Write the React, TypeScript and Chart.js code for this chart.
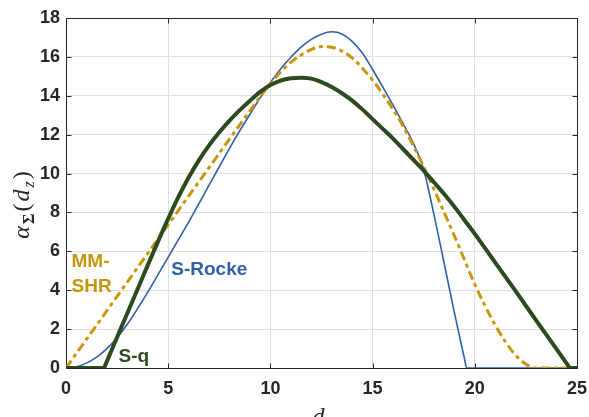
import React, { useEffect, useRef } from "react";
import { Chart, registerables } from "chart.js";

Chart.register(...registerables);

// ---- data ----
const xTickValues = [0, 5, 10, 15, 20, 25];
const yTickValues = [0, 2, 4, 6, 8, 10, 12, 14, 16, 18];

const seriesNames = ["S-q", "MM-SHR", "S-Rocke"];

const sqX = [0, 1.86, 1.95, 2.5, 3, 3.5, 4, 4.5, 5, 5.5, 6, 6.5, 7, 7.5, 8, 8.5, 9, 9.5, 10, 10.5, 11, 11.5, 12, 12.5, 13, 13.5, 14, 14.5, 15, 15.5, 16, 16.5, 17, 17.5, 18, 18.5, 19, 19.5, 20, 21, 22, 23, 24, 24.55, 24.65, 25];
const sqY = [0, 0, 0.22, 1.58, 2.82, 4.05, 5.29, 6.5, 7.68, 8.8, 9.8, 10.68, 11.45, 12.12, 12.72, 13.26, 13.75, 14.2, 14.55, 14.78, 14.9, 14.93, 14.88, 14.7, 14.45, 14.13, 13.75, 13.3, 12.8, 12.3, 11.8, 11.25, 10.7, 10.15, 9.55, 8.95, 8.3, 7.6, 6.9, 5.42, 3.95, 2.45, 0.97, 0.15, 0, 0];

const shrX = [0, 9, 9.5, 10, 10.5, 11, 11.5, 12, 12.5, 13, 13.5, 14, 14.5, 15, 15.5, 16, 16.5, 17, 17.5, 18, 18.5, 19, 19.5, 20, 20.5, 21, 21.5, 22, 22.5, 23, 24.65];
const shrY = [0, 13.23, 13.95, 14.62, 15.22, 15.72, 16.1, 16.38, 16.53, 16.5, 16.3, 15.95, 15.42, 14.8, 14.08, 13.3, 12.42, 11.42, 10.35, 9.2, 8.0, 6.8, 5.55, 4.3, 3.2, 2.2, 1.35, 0.65, 0.2, 0, 0];

const rockeX = [0, 0.5, 1, 1.5, 2, 2.5, 3, 3.5, 4, 4.5, 5, 5.5, 6, 6.5, 7, 7.5, 8, 8.5, 9, 9.5, 10, 10.5, 11, 11.5, 12, 12.5, 13, 13.5, 14, 14.5, 15, 15.5, 16, 16.5, 17, 17.5, 18, 18.5, 19, 19.5, 19.6, 24.8];
const rockeY = [0, 0.06, 0.25, 0.56, 1.0, 1.56, 2.25, 3.05, 3.9, 4.8, 5.7, 6.6, 7.5, 8.45, 9.4, 10.35, 11.3, 12.2, 13.05, 13.9, 14.68, 15.38, 15.98, 16.5, 16.9, 17.17, 17.29, 17.18, 16.8, 16.2, 15.35, 14.45, 13.52, 12.55, 11.55, 10.2, 7.9, 5.4, 2.85, 0.45, 0, 0];

// label texts inside the plot, anchored in data units
const labelTexts = [["MM-", "SHR"], ["S-Rocke"], ["S-q"]];
const labelAnchorX = [0.27, 5.15, 2.57];
const labelAnchorY = [5.2, 4.79, 0.31];

const COLORS = { sq: "#2c4a1d", shr: "#c8960c", rocke: "#3060a8", axis: "#262626", grid: "#e0e0e0" };

function pts(xs: number[], ys: number[]) {
  return xs.map((x, i) => ({ x, y: ys[i] }));
}

const boxPlugin = {
  id: "boxPlugin",
  beforeDatasetsDraw(chart: any) {
    const { ctx, chartArea: a, scales } = chart;
    ctx.save();
    ctx.strokeStyle = COLORS.axis;
    ctx.lineWidth = 1;
    const L = Math.round(a.left) + 0.5, R = Math.round(a.right) + 0.5;
    const T = Math.round(a.top) + 0.5, B = Math.round(a.bottom) + 0.5;
    ctx.beginPath();
    ctx.rect(L, T, R - L, B - T);
    ctx.stroke();
    const tl = 5;
    ctx.beginPath();
    for (const v of xTickValues) {
      const px = Math.round(scales.x.getPixelForValue(v)) + 0.5;
      ctx.moveTo(px, B); ctx.lineTo(px, B - tl);
      ctx.moveTo(px, T); ctx.lineTo(px, T + tl);
    }
    for (const v of yTickValues) {
      const py = Math.round(scales.y.getPixelForValue(v)) + 0.5;
      ctx.moveTo(L, py); ctx.lineTo(L + tl, py);
      ctx.moveTo(R, py); ctx.lineTo(R - tl, py);
    }
    ctx.stroke();
    ctx.restore();
  },
};

const textPlugin = {
  id: "textPlugin",
  afterDatasetsDraw(chart: any) {
    const { ctx, scales } = chart;
    const cols = [COLORS.shr, COLORS.rocke, COLORS.sq];
    ctx.save();
    ctx.font = "bold 19px 'Liberation Sans', Arial, sans-serif";
    ctx.textAlign = "left";
    ctx.textBaseline = "alphabetic";
    labelTexts.forEach((lines, i) => {
      const x = scales.x.getPixelForValue(labelAnchorX[i]);
      const y0 = scales.y.getPixelForValue(labelAnchorY[i]);
      ctx.fillStyle = cols[i];
      lines.forEach((t, j) => {
        ctx.fillText(t, x, y0 + j * 25);
      });
    });
    ctx.restore();
  },
  afterDraw(chart: any) {
    const { ctx, chartArea: a } = chart;
    ctx.save();
    ctx.fillStyle = COLORS.axis;
    ctx.textBaseline = "alphabetic";
    const big = "italic 24px 'Liberation Serif', 'Times New Roman', serif";
    const up = "24px 'Liberation Serif', 'Times New Roman', serif";
    const sub = "italic 16px 'Liberation Serif', 'Times New Roman', serif";
    const subB = "bold 16px 'Liberation Serif', 'Times New Roman', serif";
    const gap = 2;
    // y title: alpha_Sigma(d_z)
    const parts: [string, string, number][] = [
      ["α", big, 0], ["Σ", subB, 5], ["(", up, 0], ["d", big, 0], ["z", sub, 5], [")", up, 0],
    ];
    let total = 0;
    for (const [t, f] of parts) { ctx.font = f; total += ctx.measureText(t).width + gap; }
    total -= gap;
    ctx.translate(29, 205);
    ctx.rotate(-Math.PI / 2);
    let cx = -total / 2;
    for (const [t, f, dy] of parts) {
      ctx.font = f;
      ctx.fillText(t, cx, dy);
      cx += ctx.measureText(t).width + gap;
    }
    ctx.setTransform(1, 0, 0, 1, 0, 0);
    // x title: d_z
    const xp: [string, string, number][] = [["d", big, 0], ["z", sub, 5]];
    let tw = 0;
    for (const [t, f] of xp) { ctx.font = f; tw += ctx.measureText(t).width; }
    let xx = (a.left + a.right) / 2 - tw / 2;
    for (const [t, f, dy] of xp) {
      ctx.font = f;
      ctx.fillText(t, xx, 424 + dy);
      xx += ctx.measureText(t).width;
    }
    ctx.restore();
  },
};

export default function App() {
  const ref = useRef<HTMLCanvasElement | null>(null);
  useEffect(() => {
    document.body.style.margin = "0";
    const canvas = ref.current!;
    const tickFont = { family: "'Liberation Sans', Arial, sans-serif", size: 18, weight: "bold" as const };
    const chart = new Chart(canvas, {
      type: "line",
      data: {
        datasets: [
          {
            label: seriesNames[0],
            data: pts(sqX, sqY),
            borderColor: COLORS.sq,
            borderWidth: 4,
            pointRadius: 0,
            cubicInterpolationMode: "monotone",
            fill: false,
          },
          {
            label: seriesNames[1],
            data: pts(shrX, shrY),
            borderColor: COLORS.shr,
            borderWidth: 3,
            borderDash: [9, 4, 4, 4],
            pointRadius: 0,
            cubicInterpolationMode: "monotone",
            fill: false,
          },
          {
            label: seriesNames[2],
            data: pts(rockeX, rockeY),
            borderColor: COLORS.rocke,
            borderWidth: 1.6,
            pointRadius: 0,
            cubicInterpolationMode: "monotone",
            fill: false,
          },
        ],
      },
      options: {
        responsive: false,
        animation: false,
        layout: { padding: { left: 0, right: 12, top: 18, bottom: 0 } },
        plugins: { legend: { display: false }, tooltip: { enabled: false } },
        scales: {
          x: {
            type: "linear",
            min: 0,
            max: 25,
            afterFit: (s: any) => { s.height = 49; s.paddingLeft = 0; s.paddingRight = 0; },
            afterBuildTicks: (s: any) => { s.ticks = xTickValues.map((v) => ({ value: v })); },
            ticks: { font: tickFont, color: COLORS.axis, padding: 10, maxRotation: 0 },
            grid: { color: COLORS.grid, drawTicks: false },
            border: { display: false },
          },
          y: {
            type: "linear",
            min: 0,
            max: 18,
            afterFit: (s: any) => { s.width = 66; s.paddingTop = 0; s.paddingBottom = 0; },
            afterBuildTicks: (s: any) => { s.ticks = yTickValues.map((v) => ({ value: v })); },
            ticks: { font: tickFont, color: COLORS.axis, padding: 6 },
            grid: { color: COLORS.grid, drawTicks: false },
            border: { display: false },
          },
        },
      },
      plugins: [boxPlugin, textPlugin],
    });
    return () => chart.destroy();
  }, []);
  return <canvas ref={ref} width={589} height={417} style={{ display: "block" }} />;
}
